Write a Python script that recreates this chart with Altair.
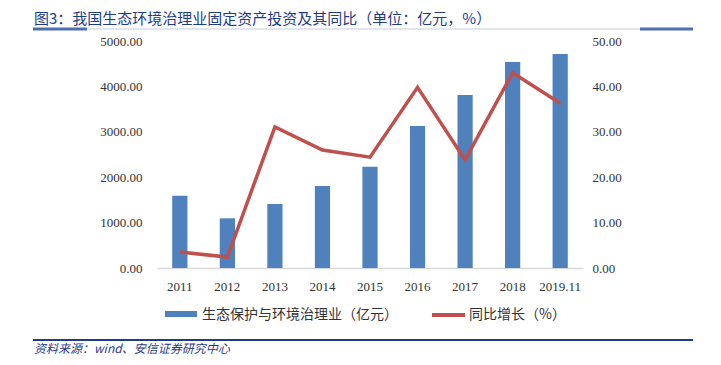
import altair as alt
import pandas as pd

years = ["2011", "2012", "2013", "2014", "2015", "2016", "2017", "2018", "2019.11"]
invest = [1593, 1094, 1410, 1806, 2231, 3128, 3810, 4537, 4714]
growth = [3.5, 2.4, 31.1, 26.0, 24.4, 39.8, 23.8, 43.0, 36.3]

title_text = "图3：我国生态环境治理业固定资产投资及其同比（单位：亿元，%）"
source_text = "资料来源：wind、安信证券研究中心"
bar_name = "生态保护与环境治理业（亿元）"
line_name = "同比增长（%）"

df = pd.DataFrame({"year": years, "invest": invest, "growth": growth})

W, H = 426, 227
CJK = "Noto Sans CJK SC"
SERIF = "Liberation Serif"

x = alt.X("year:N", sort=years, title=None,
          scale=alt.Scale(paddingInner=0.68, paddingOuter=0.32),
          axis=alt.Axis(labelAngle=0, labelFont=SERIF, labelFontSize=13, labelColor="#333333",
                        domainColor="#D9D9D9", domainWidth=1.5, ticks=False, labelPadding=12))

bars = alt.Chart(df).mark_bar(color="#4F81BD").encode(
    x=x,
    y=alt.Y("invest:Q", title=None, scale=alt.Scale(domain=[0, 5000]),
            axis=alt.Axis(values=[0, 1000, 2000, 3000, 4000, 5000], format=".2f", grid=False,
                          domain=False, ticks=False, labelFont=SERIF, labelFontSize=13,
                          labelColor="#333333", labelPadding=15)),
)

line = alt.Chart(df).mark_line(color="#C0504D", strokeWidth=3.5).encode(
    x=x,
    y=alt.Y("growth:Q", title=None, scale=alt.Scale(domain=[0, 50]),
            axis=alt.Axis(orient="right", values=[0, 10, 20, 30, 40, 50], format=".2f", grid=False,
                          domain=False, ticks=False, labelFont=SERIF, labelFontSize=13,
                          labelColor="#333333", labelPadding=9)),
)

one = pd.DataFrame({"k": [0]})

def txt(s, xv, yv, size, color, font=CJK, style="normal", weight="normal"):
    return alt.Chart(one).mark_text(text=s, align="left", baseline="middle", fontSize=size,
                                    color=color, font=font, fontStyle=style, fontWeight=weight).encode(
        x=alt.value(xv), y=alt.value(yv))

def rule(x1, x2, yv, color, width):
    return alt.Chart(one).mark_rule(color=color, strokeWidth=width).encode(
        x=alt.value(x1), x2=alt.value(x2), y=alt.value(yv))

ox, oy = 157, 41  # plot origin on page

title = txt(title_text, 34 - ox, 19 - oy, 15, "#1F3C88")
ul_thin = rule(33 - ox, 693 - ox, 29 - oy, "#D9DDE5", 1.5)
ul_l = rule(33 - ox, 87 - ox, 29 - oy, "#4F6FB0", 3)
ul_r = rule(640 - ox, 693 - ox, 29 - oy, "#4F6FB0", 3)
foot_rule = rule(33 - ox, 693 - ox, 340 - oy, "#1F3C88", 2)
source = txt(source_text, 34 - ox, 349 - oy, 12, "#1F3C88", style="italic")

leg_bar = alt.Chart(one).mark_rect(color="#4F81BD").encode(
    x=alt.value(165 - ox), x2=alt.value(197 - ox), y=alt.value(311 - oy), y2=alt.value(317 - oy))
leg_bar_t = txt(bar_name, 202 - ox, 315 - oy, 14, "#333333")
leg_line = rule(432 - ox, 465 - ox, 315 - oy, "#C0504D", 4)
leg_line_t = txt(line_name, 469 - ox, 315 - oy, 14, "#333333")

main = alt.layer(bars, line).resolve_scale(y="independent")

chart = alt.layer(main, title, ul_thin, ul_l, ul_r, foot_rule, source,
                  leg_bar, leg_bar_t, leg_line, leg_line_t).properties(
    width=W, height=H,
    autosize=alt.AutoSizeParams(type="none"),
    padding={"left": ox - 8, "top": oy - 8, "right": 705 - (ox - 8) - W, "bottom": 349 - (oy - 8) - H},
    background="white",
).configure_view(stroke=None)

chart.save("out.html", embed_options={"renderer": "svg", "actions": False})
